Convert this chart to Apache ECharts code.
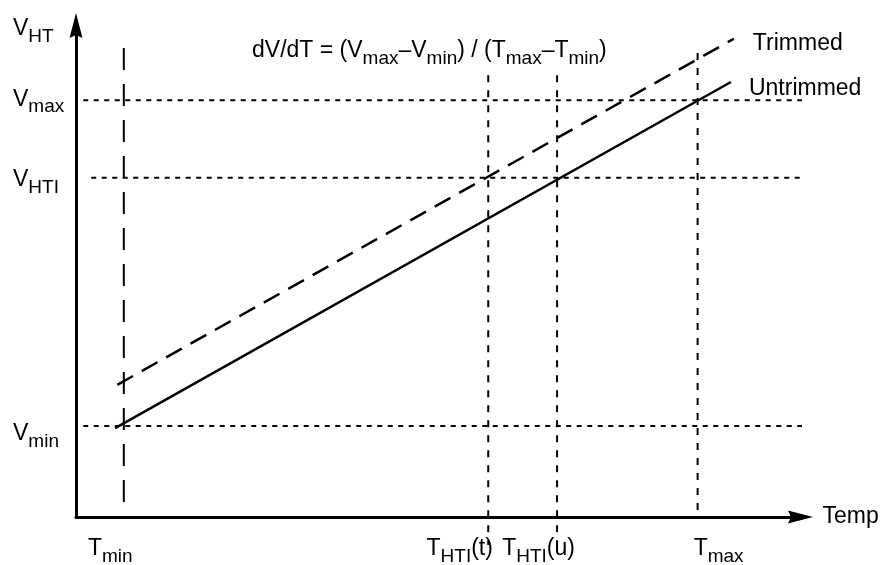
<!DOCTYPE html>
<html>
<head>
<meta charset="utf-8">
<script src="https://cdn.jsdelivr.net/npm/echarts@6/dist/echarts.min.js"></script>
<style>
  html, body { margin: 0; padding: 0; background: #fff; }
  #chart { width: 891px; height: 565px; }
</style>
</head>
<body>
<div id="chart"></div>
<script>
// ---- data (arbitrary units 0..100 on both axes) ----
const tempTickValues = [6.6, 56.9, 66.4, 85.8];
const tempTickLabels = [['T', 'min', ''], ['T', 'HTI', '(t)'], ['T', 'HTI', '(u)'], ['T', 'max', '']];
const voltTickValues = [18.5, 69.0, 84.8, 100];
const voltTickLabels = [['V', 'min', ''], ['V', 'HTI', ''], ['V', 'max', ''], ['V', 'HT', '']];

const untrimmedLine = [[5.4, 18.1], [90.4, 88.5]];
const trimmedLine = [[5.7, 26.9], [90.8, 97.3]];

// horizontal guide lines: [V value, x start, x end]
const vGuides = [[18.5, 1.0, 100.6], [69.0, 2.1, 101.0], [84.8, 1.0, 100.2]];
// vertical guide lines: [T value, y top, y bottom]
const tMinGuide = [6.6, 95.4, 0];
const tGuides = [[56.9, 89.9, -5.7], [66.4, 89.9, -5.7], [85.8, 94.4, 0]];

const formulaParts = [['m', 'dV/dT = (V'], ['s', 'max'], ['m', '\u2013V'], ['s', 'min'], ['m', ') / (T'], ['s', 'max'], ['m', '\u2013T'], ['s', 'min'], ['m', ')']];

// ---- style / layout ----
const FONT = 'Liberation Sans, Arial, Helvetica, sans-serif';
const MAIN = 23, SUB = 19, SUBDROP = 16;
function mainStyle(extra) { return Object.assign({ fontSize: MAIN, fontFamily: FONT, fontWeight: 'normal', color: '#000' }, extra || {}); }
function subStyle(extra) { return Object.assign({ fontSize: SUB, fontFamily: FONT, fontWeight: 'normal', color: '#000' }, extra || {}); }
const richBase = {
  m: mainStyle(),
  s: subStyle({ padding: [SUBDROP, 0, 0, 0] })
};
// horizontal shift of each x tick label relative to its tick (px)
const xLabelShift = [-13.5, -28.5, -18.5, 21];
const xRich = Object.assign({}, richBase);
xLabelShift.forEach((d, i) => { xRich['g' + i] = { width: Math.abs(2 * d), fontSize: 4 }; });
// vertical shift of each y tick label relative to its value (px, + = down)
const yLabelShift = [8, 2, -1, 3];
const yRich = {};
yLabelShift.forEach((d, i) => {
  const a = Math.abs(2 * d);
  yRich['m' + i] = mainStyle({ padding: d >= 0 ? [a, 0, 0, 0] : [0, 0, a, 0] });
  yRich['s' + i] = subStyle({ padding: d >= 0 ? [SUBDROP + a, 0, 0, 0] : [SUBDROP, 0, a, 0] });
});

function richLabel(parts, suffix) {
  const k = suffix === undefined ? '' : suffix;
  let s = '{m' + k + '|' + parts[0] + '}{s' + k + '|' + parts[1] + '}';
  if (parts[2]) s += '{m' + k + '|' + parts[2] + '}';
  return s;
}

const arrow = 'path://M6.5,0L13,25L6.5,22L0,25Z';

const series = [];
vGuides.forEach((g, i) => {
  series.push({
    type: 'line', name: 'vguide' + i, symbol: 'none', clip: false, silent: true,
    data: [[g[1], g[0]], [g[2], g[0]]],
    lineStyle: { color: '#000', width: 2, type: [5, 5.5] }
  });
});
series.push({
  type: 'line', name: 'tmin', symbol: 'none', clip: false, silent: true,
  data: [[tMinGuide[0], tMinGuide[1]], [tMinGuide[0], tMinGuide[2]]],
  lineStyle: { color: '#000', width: 2, type: [22, 14] }
});
tGuides.forEach((g, i) => {
  series.push({
    type: 'line', name: 'tguide' + i, symbol: 'none', clip: false, silent: true,
    data: [[g[0], g[1]], [g[0], g[2]]],
    lineStyle: { color: '#000', width: 2, type: [7, 8] }
  });
});
series.push({
  type: 'line', name: 'Untrimmed', symbol: 'none', clip: false, silent: true,
  data: untrimmedLine,
  lineStyle: { color: '#000', width: 2.5 },
  endLabel: { show: true, formatter: 'Untrimmed', distance: 18, offset: [0, 7],
    fontSize: MAIN, fontFamily: FONT, color: '#000' }
});
series.push({
  type: 'line', name: 'Trimmed', symbol: 'none', clip: false, silent: true,
  data: trimmedLine,
  lineStyle: { color: '#000', width: 2.5, type: [18, 10] },
  endLabel: { show: true, formatter: 'Trimmed', distance: 19, offset: [0, 5],
    fontSize: MAIN, fontFamily: FONT, color: '#000' }
});

const chart = echarts.init(document.getElementById('chart'), null, { renderer: 'canvas' });
chart.setOption({
  animation: false,
  backgroundColor: '#fff',
  title: {
    text: formulaParts.map(p => '{' + p[0] + '|' + p[1] + '}').join(''),
    left: 252, top: 33, padding: 0,
    textStyle: { fontWeight: 'normal', rich: richBase }
  },
  grid: { left: 76, right: 90.5, top: 25.5, bottom: 48, containLabel: false, outerBoundsMode: 'none' },
  xAxis: {
    type: 'value', min: 0, max: 100,
    axisLine: { show: true, onZero: false, symbol: ['none', arrow], symbolSize: [13, 25],
      lineStyle: { color: '#000', width: 3 } },
    axisTick: { show: false }, splitLine: { show: false },
    axisLabel: {
      customValues: tempTickValues, margin: 14, color: '#000',
      formatter: function (v) {
        const i = tempTickValues.indexOf(v);
        if (i < 0) return '';
        const d = xLabelShift[i];
        const core = richLabel(tempTickLabels[i]);
        return d < 0 ? core + '{g' + i + '| }' : '{g' + i + '| }' + core;
      },
      rich: xRich
    },
    name: 'Temp', nameLocation: 'end', nameGap: 22,
    nameTextStyle: { fontSize: MAIN, fontFamily: FONT, color: '#000', align: 'left', verticalAlign: 'middle' }
  },
  yAxis: {
    type: 'value', min: 0, max: 100,
    axisLine: { show: true, onZero: false, symbol: ['none', arrow], symbolSize: [13, 25],
      lineStyle: { color: '#000', width: 3 } },
    axisTick: { show: false }, splitLine: { show: false },
    axisLabel: {
      customValues: voltTickValues, margin: 63, align: 'left', color: '#000',
      formatter: function (v) {
        const i = voltTickValues.indexOf(v);
        return i < 0 ? '' : richLabel(voltTickLabels[i], i);
      },
      rich: yRich
    }
  },
  series: series
});
</script>
</body>
</html>
